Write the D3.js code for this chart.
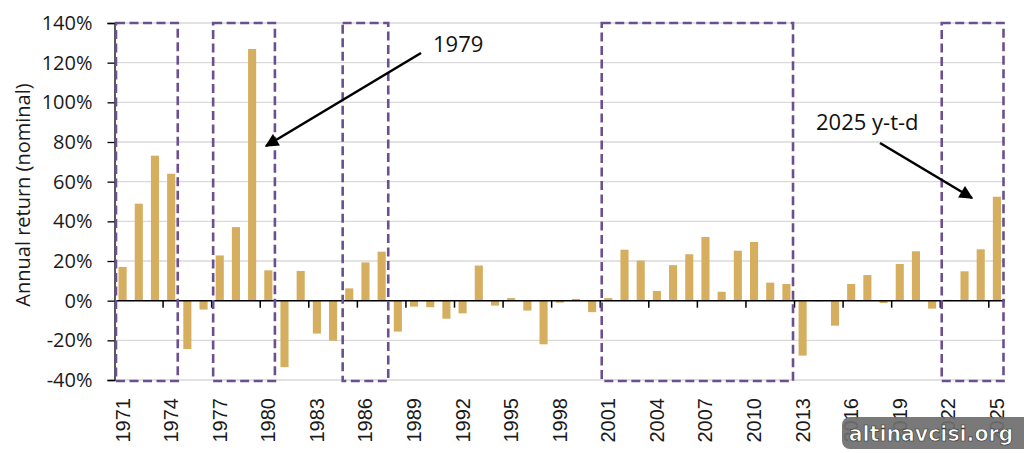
<!DOCTYPE html>
<html>
<head>
<meta charset="utf-8">
<script src="https://cdn.jsdelivr.net/npm/d3@7/dist/d3.min.js"></script>
<style>
  html, body { margin: 0; padding: 0; background: #fff; }
  svg { display: block; }
</style>
</head>
<body>
<svg id="chart" width="1024" height="453"></svg>
<script>
// ---- data ----
const years = d3.range(1971, 2026);
const returns = [
  17.0, 48.9, 73.1, 64.0, -24.4, -4.5, 22.8, 37.1, 126.9, 15.3,
  -33.5, 15.0, -16.6, -20.2, 6.2, 19.3, 24.7, -15.6, -3.0, -3.3,
  -9.1, -6.4, 17.7, -2.5, 1.3, -5.0, -22.0, -1.0, 0.9, -5.8,
  1.3, 25.7, 20.2, 4.9, 17.9, 23.4, 32.1, 4.5, 25.2, 29.6,
  9.1, 8.4, -27.7, -0.3, -12.6, 8.4, 12.9, -1.2, 18.5, 24.9,
  -4.0, 0.4, 14.8, 25.9, 52.4
];
const yTicks = [-40, -20, 0, 20, 40, 60, 80, 100, 120, 140];
const labelYears = years.filter((y, i) => i % 3 === 0);
const highlightRanges = [[1971, 1974], [1977, 1980], [1985, 1987], [2001, 2012], [2022, 2025]];
const annotations = [
  { text: "1979", tx: 433, ty: 52, x1: 421, y1: 53, x2: 266, y2: 146 },
  { text: "2025 y-t-d", tx: 816, ty: 130, x1: 880, y1: 143, x2: 972, y2: 198 }
];

(function () {
// ---- layout ----
const mLeft = 114.5, mRight = 1005, mTop = 23, mBottom = 380;
const svg = d3.select("#chart");

const x = d3.scaleBand().domain(years).range([mLeft, mRight]).paddingInner(0.5).paddingOuter(0.25);
const y = d3.scaleLinear().domain([-40, 140]).range([mBottom, mTop]);

// gridlines
svg.append("g").selectAll("line").data(yTicks).join("line")
  .attr("x1", mLeft).attr("x2", mRight)
  .attr("y1", d => y(d)).attr("y2", d => y(d))
  .attr("stroke", "#d9d9d9").attr("stroke-width", 1.3);

// y axis
const yAxis = svg.append("g").attr("transform", `translate(${mLeft},0)`)
  .call(d3.axisLeft(y).tickValues(yTicks).tickFormat(d => d + "%").tickSize(7).tickPadding(15));
yAxis.select(".domain").attr("stroke", "#000").attr("stroke-width", 1.3);
yAxis.selectAll(".tick line").attr("stroke", "#000").attr("stroke-width", 1.3);
yAxis.selectAll("text").attr("font-family", "'Open Sans', sans-serif").attr("font-size", 20).attr("fill", "#1a1a1a");

// y axis title
svg.append("text")
  .attr("transform", "translate(30,195) rotate(-90)")
  .attr("text-anchor", "middle")
  .attr("font-family", "'Open Sans', sans-serif").attr("font-size", 20).attr("fill", "#1a1a1a")
  .text("Annual return (nominal)");

// bars
svg.append("g").selectAll("rect").data(years).join("rect")
  .attr("x", d => x(d))
  .attr("width", x.bandwidth())
  .attr("y", (d, i) => y(Math.max(0, returns[i])))
  .attr("height", (d, i) => Math.abs(y(returns[i]) - y(0)))
  .attr("fill", "#d5ae5f");

// x axis line with ticks every 3 categories (at boundaries)
const step = x.step();
const x0 = mLeft;
svg.append("line").attr("x1", mLeft).attr("x2", mRight).attr("y1", y(0)).attr("y2", y(0))
  .attr("stroke", "#000").attr("stroke-width", 1.5);
const boundaryIdx = d3.range(3, years.length + 1, 3);
svg.append("g").selectAll("line").data(boundaryIdx).join("line")
  .attr("x1", i => x0 + i * step).attr("x2", i => x0 + i * step)
  .attr("y1", y(0)).attr("y2", y(0) + 7)
  .attr("stroke", "#000").attr("stroke-width", 1.5);

// year labels
svg.append("g").selectAll("text").data(labelYears).join("text")
  .attr("transform", d => `translate(${x(d) + x.bandwidth() / 2},398) rotate(-90)`)
  .attr("text-anchor", "end").attr("dy", "0.35em")
  .attr("font-family", "'Liberation Sans', Arial, sans-serif").attr("font-size", 20).attr("fill", "#1a1a1a")
  .text(d => d);

// highlight boxes
svg.append("g").selectAll("rect").data(highlightRanges).join("rect")
  .attr("x", d => x0 + years.indexOf(d[0]) * step + 1.5)
  .attr("width", d => (years.indexOf(d[1]) - years.indexOf(d[0]) + 1) * step - 3)
  .attr("y", y(140))
  .attr("height", y(-40) - y(140) + 1)
  .attr("fill", "none")
  .attr("stroke", "#6b5090").attr("stroke-width", 2.6)
  .attr("stroke-dasharray", "9,4.5");

// arrows
const defs = svg.append("defs");
defs.append("marker").attr("id", "ah").attr("viewBox", "0 0 10 10")
  .attr("refX", 9).attr("refY", 5).attr("markerWidth", 6).attr("markerHeight", 5.2)
  .attr("markerUnits", "strokeWidth").attr("orient", "auto")
  .append("path").attr("d", "M0,0 L10,5 L0,10 Z").attr("fill", "#000");

const ann = svg.append("g");
ann.selectAll("line").data(annotations).join("line")
  .attr("x1", d => d.x1).attr("y1", d => d.y1).attr("x2", d => d.x2).attr("y2", d => d.y2)
  .attr("stroke", "#000").attr("stroke-width", 2.6).attr("marker-end", "url(#ah)");
ann.selectAll("text").data(annotations).join("text")
  .attr("x", d => d.tx).attr("y", d => d.ty)
  .attr("font-family", "'Open Sans', sans-serif").attr("font-size", 22).attr("fill", "#111")
  .text(d => d.text);

// watermark
const wm = svg.append("g");
wm.append("rect").attr("x", 842).attr("y", 417).attr("width", 190).attr("height", 32).attr("rx", 8)
  .attr("fill", "#6e6e6e").attr("fill-opacity", 0.92);
wm.append("text").attr("x", 931).attr("y", 441).attr("text-anchor", "middle")
  .attr("font-family", "'DejaVu Sans', sans-serif").attr("font-weight", "bold").attr("font-size", 20.5)
  .attr("fill", "#fff").attr("stroke", "#333").attr("stroke-width", 0.7)
  .text("altinavcisi.org");
})();
</script>
</body>
</html>
